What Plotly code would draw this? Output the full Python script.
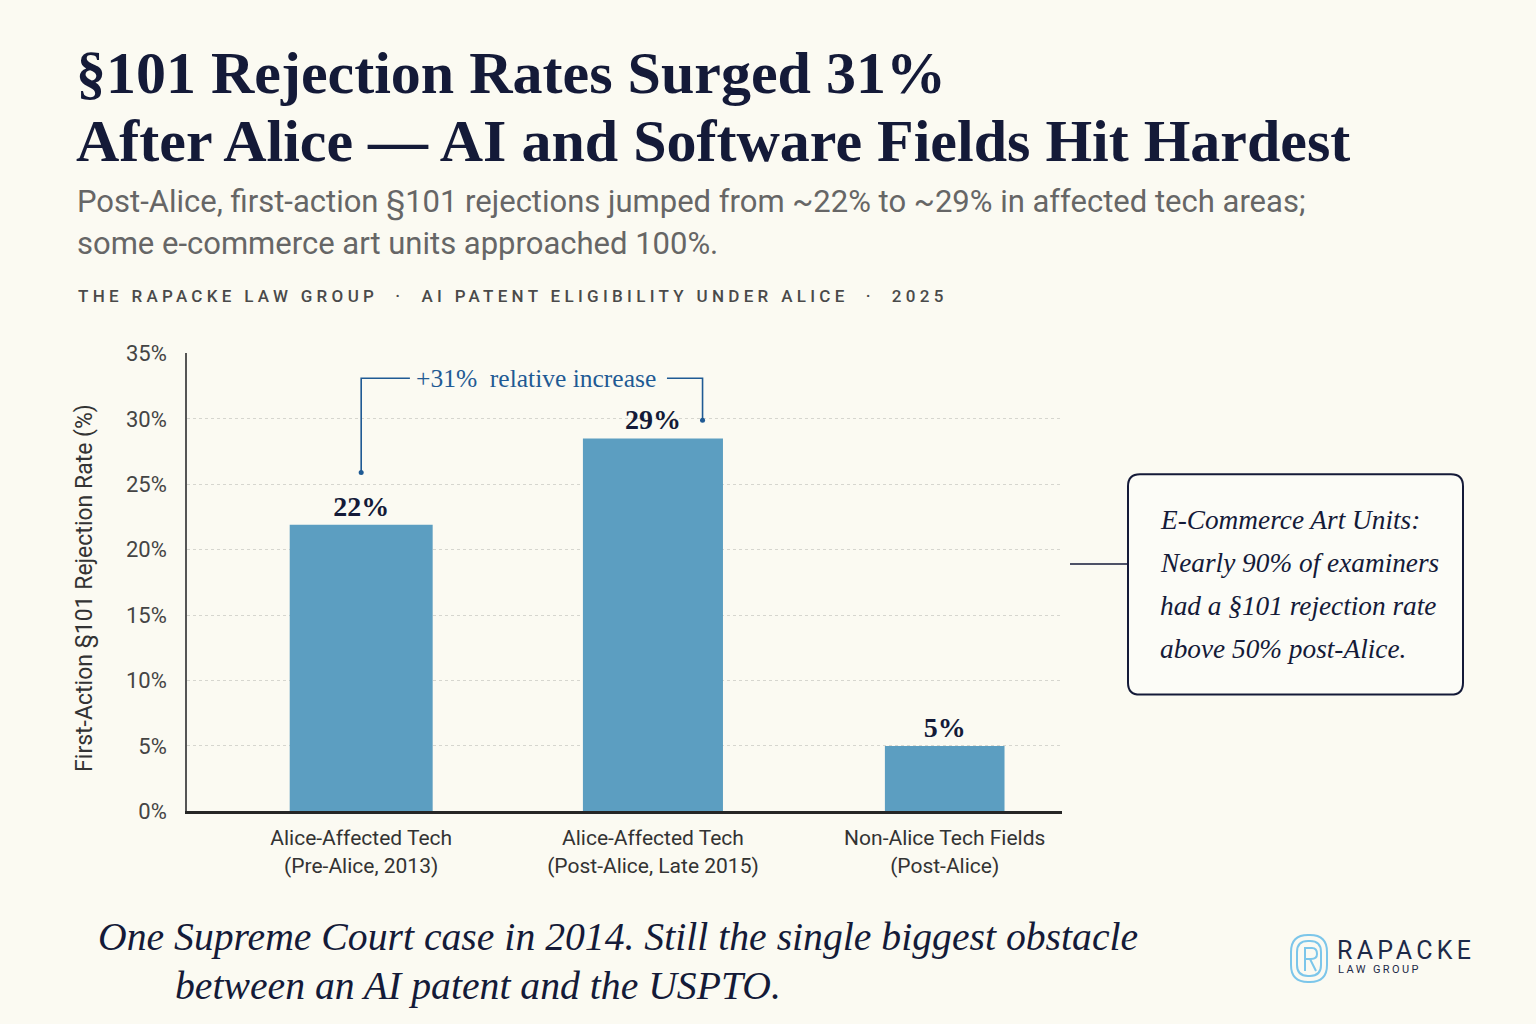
import plotly.graph_objects as go

W, H = 1536, 1024

# ---------------- data ----------------
categories = ["Alice-Affected Tech<br>(Pre-Alice, 2013)",
              "Alice-Affected Tech<br>(Post-Alice, Late 2015)",
              "Non-Alice Tech Fields<br>(Post-Alice)"]
rates = [21.9, 28.5, 5.0]
rate_labels = ["22%", "29%", "5%"]
y_ticks = [0, 5, 10, 15, 20, 25, 30, 35]
y_tick_text = ["0%", "5%", "10%", "15%", "20%", "25%", "30%", "35%"]

title_lines = ["§101 Rejection Rates Surged 31%",
               "After Alice — AI and Software Fields Hit Hardest"]
subtitle_lines = ["Post-Alice, first-action §101 rejections jumped from ~22% to ~29% in affected tech areas;",
                  "some e-commerce art units approached 100%."]
kicker = "THE RAPACKE LAW GROUP  ·  AI PATENT ELIGIBILITY UNDER ALICE  ·  2025"
y_title = "First-Action §101 Rejection Rate (%)"
bracket_text = "+31%  relative increase"
callout_lines = ["E-Commerce Art Units:",
                 "Nearly 90% of examiners",
                 "had a §101 rejection rate",
                 "above 50% post-Alice."]
footer_lines = ["One Supreme Court case in 2014. Still the single biggest obstacle",
                "between an AI patent and the USPTO."]

# ---------------- style ----------------
BG = "#fbfaf2"
NAVY = "#141a38"
BAR = "#5c9ec1"
BLUE = "#1f5a94"
SERIF = "Liberation Serif, Times New Roman, serif"
SANS = "Roboto, Liberation Sans, sans-serif"

# paper offset/scale observed in rendering (vertical)
OFF, SC = 10.7, 0.978


def px(x):
    return x / W


def py(y):
    return 1 - (y - OFF) / SC / H


fig = go.Figure()
fig.add_trace(go.Bar(
    x=categories, y=rates,
    width=[0.49, 0.48, 0.41],
    marker=dict(color=BAR, line=dict(width=0)),
    text=["<b>" + t + "</b>" for t in rate_labels], textposition="outside",
    textfont=dict(family=SERIF, size=28, color=NAVY),
    cliponaxis=False, hoverinfo="skip",
))

X0, X1 = 187, 1062
Y0, Y1 = 812, 353

fig.update_layout(
    width=W, height=H,
    margin=dict(l=0, r=0, t=0, b=0),
    paper_bgcolor=BG, plot_bgcolor=BG,
    showlegend=False,
    bargap=0.5,
    xaxis=dict(domain=[px(X0), px(X1)], range=[-0.597, 2.402],
               showline=True, linecolor="#262626", linewidth=2.5,
               showgrid=False, ticks="", ticklabelstandoff=6,
               tickfont=dict(family=SANS, size=21, color="#333333"),
               fixedrange=True),
    yaxis=dict(domain=[py(Y0), py(Y1)], range=[0, 35],
               tickmode="array", tickvals=y_ticks, ticktext=y_tick_text,
               showline=True, linecolor="#555555", linewidth=1.5,
               showgrid=True, gridcolor="#d6d6cf", griddash="dot", gridwidth=1,
               zeroline=False, ticks="", ticklabelstandoff=14,
               tickfont=dict(family=SANS, size=22, color="#444444"),
               fixedrange=True),
)

ann = []
# Title
for i, t in enumerate(title_lines):
    ann.append(dict(text="<b>" + t + "</b>", x=px(74), y=py(72 + i * 68), xref="paper", yref="paper",
                    xanchor="left", yanchor="middle", showarrow=False,
                    font=dict(family=SERIF, size=60, color=NAVY)))
# Subtitle
for i, t in enumerate(subtitle_lines):
    ann.append(dict(text=t, x=px(75), y=py(201 + i * 42), xref="paper", yref="paper",
                    xanchor="left", yanchor="middle", showarrow=False,
                    font=dict(family=SANS, size=31, color="#666666")))
# Kicker
ann.append(dict(text='<span style="letter-spacing:4.3px;font-weight:500">' + kicker + '</span>',
                x=px(76), y=py(295), xref="paper", yref="paper",
                xanchor="left", yanchor="middle", showarrow=False,
                font=dict(family=SANS, size=17, color="#4a4a4a")))
# Y title
ann.append(dict(text=y_title, x=px(85), y=py(588), xref="paper", yref="paper",
                textangle=-90, xanchor="center", yanchor="middle", showarrow=False,
                font=dict(family=SANS, size=23, color="#333333")))
# Bracket label
ann.append(dict(text=bracket_text, x=0.60, y=33.1, xref="x", yref="y",
                xanchor="center", yanchor="middle", showarrow=False,
                font=dict(family=SERIF, size=25.5, color=BLUE)))
# Callout text
for i, t in enumerate(callout_lines):
    ann.append(dict(text="<i>" + t + "</i>", x=px(1158), y=py(520 + i * 43),
                    xref="paper", yref="paper", xanchor="left", yanchor="middle",
                    showarrow=False, font=dict(family=SERIF, size=27.3, color=NAVY)))
# Footer
for i, (t, xl) in enumerate(zip(footer_lines, [96, 173])):
    ann.append(dict(text="<i>" + t + "</i>", x=px(xl), y=py(938 + i * 49),
                    xref="paper", yref="paper", xanchor="left", yanchor="middle",
                    showarrow=False, font=dict(family=SERIF, size=39.7, color=NAVY)))
# Logo text
ann.append(dict(text='<span style="letter-spacing:4.3px">RAPACKE</span>', x=px(1335), y=py(952),
                xref="paper", yref="paper", xanchor="left", yanchor="middle",
                showarrow=False, font=dict(family=SANS, size=25, color="#1d2a48")))
ann.append(dict(text='<span style="letter-spacing:2.4px">LAW GROUP</span>', x=px(1336), y=py(971),
                xref="paper", yref="paper", xanchor="left", yanchor="middle",
                showarrow=False, font=dict(family=SANS, size=11, color="#1d2a48")))
fig.update_layout(annotations=ann)

shapes = []
# Bracket
bx_l, bx_r = 0.0, 1.17
y_top = 33.1
shapes.append(dict(type="path", xref="x", yref="y",
                   path=f"M {bx_l},25.9 L {bx_l},{y_top} L 0.167,{y_top}",
                   line=dict(color=BLUE, width=1.6)))
shapes.append(dict(type="path", xref="x", yref="y",
                   path=f"M 1.048,{y_top} L {bx_r},{y_top} L {bx_r},29.9",
                   line=dict(color=BLUE, width=1.6)))
for (xx, yy) in [(bx_l, 25.9), (bx_r, 29.9)]:
    shapes.append(dict(type="circle", xref="x", yref="y", xsizemode="pixel", ysizemode="pixel",
                       xanchor=xx, yanchor=yy, x0=-2.5, x1=2.5, y0=-2.5, y1=2.5,
                       fillcolor=BLUE, line=dict(width=0)))


def rrect(x0, y0, x1, y1, r):
    return (f"M {px(x0 + r)},{py(y0)} L {px(x1 - r)},{py(y0)} "
            f"Q {px(x1)},{py(y0)} {px(x1)},{py(y0 + r)} "
            f"L {px(x1)},{py(y1 - r)} Q {px(x1)},{py(y1)} {px(x1 - r)},{py(y1)} "
            f"L {px(x0 + r)},{py(y1)} Q {px(x0)},{py(y1)} {px(x0)},{py(y1 - r)} "
            f"L {px(x0)},{py(y0 + r)} Q {px(x0)},{py(y0)} {px(x0 + r)},{py(y0)} Z")


# Callout box + connector
shapes.append(dict(type="path", xref="paper", yref="paper",
                   path=rrect(1128, 474, 1463, 695, 12),
                   fillcolor="#fcfcf7", line=dict(color=NAVY, width=2)))
shapes.append(dict(type="line", xref="paper", yref="paper",
                   x0=px(1070), x1=px(1128), y0=py(564), y1=py(564),
                   line=dict(color=NAVY, width=1.6)))

# Logo icon (fingerprint-like rounded loops)
LB = "#7cc6ea"
for (a, b, c, d, r) in [(1291, 936, 1327, 983, 17), (1297, 942, 1321, 977, 11)]:
    shapes.append(dict(type="path", xref="paper", yref="paper",
                       path=rrect(a, b, c, d, r), line=dict(color=LB, width=2)))
shapes.append(dict(type="path", xref="paper", yref="paper",
                   path=f"M {px(1305)},{py(972)} L {px(1305)},{py(949)} L {px(1312)},{py(949)} "
                        f"Q {px(1317)},{py(949)} {px(1317)},{py(955)} Q {px(1317)},{py(960)} {px(1311)},{py(960)} "
                        f"L {px(1305)},{py(960)} M {px(1310)},{py(960)} L {px(1316)},{py(972)}",
                   line=dict(color=LB, width=2)))
fig.update_layout(shapes=shapes)

fig.write_html("out.html")
